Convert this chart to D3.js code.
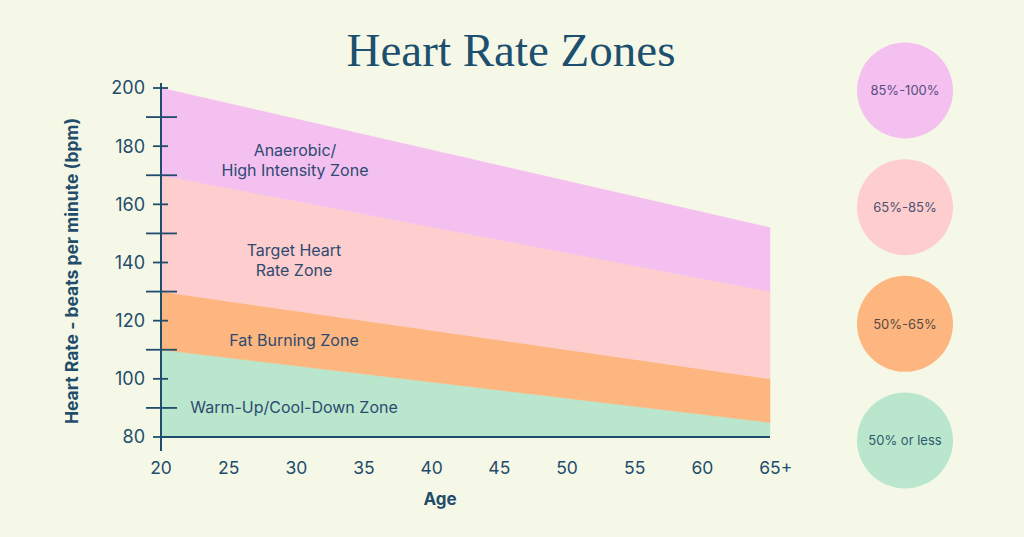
<!DOCTYPE html>
<html><head><meta charset="utf-8">
<script src="https://cdn.jsdelivr.net/npm/d3@7"></script>
<style>
html,body{margin:0;padding:0;background:#f6f8e7;}
svg{display:block;}
</style></head>
<body><svg id="c" width="1024" height="537"></svg>
<script>
// ---- data ----
const ages = [20, 65];
const xTickValues = [20, 25, 30, 35, 40, 45, 50, 55, 60, 65];
const xTickLabels = ["20","25","30","35","40","45","50","55","60","65+"];
const yMajorTicks = [80, 100, 120, 140, 160, 180, 200];
const yMinorTicks = [90, 110, 130, 150, 170, 190];
const zoneNames = ["Warm-Up/Cool-Down Zone", "Fat Burning Zone", "Target Heart Rate Zone", "Anaerobic/High Intensity Zone"];
const warmUpTop = [110, 85];
const fatBurnTop = [130, 100];
const targetTop = [170, 130];
const anaerobicTop = [200, 152];
const floorBpm = [80, 80];
const legendLabels = ["85%-100%", "65%-85%", "50%-65%", "50% or less"];
const zoneColors = ["#b9e6cd", "#fdb67f", "#fecdcd", "#f4c0f0"];
const legendColors = ["#f4c0f0", "#fecdcd", "#fdb67f", "#b9e6cd"];
const legendTextColors = ["#5b4d80", "#4d5274", "#5a4b45", "#2e5a6c"];

// ---- chart ----
const svg = d3.select("#c");
const ink = "#1f4d6b";
const sans = "Inter, 'Open Sans', sans-serif";

svg.append("rect").attr("width",1024).attr("height",537).attr("fill","#f6f8e7");

const x = d3.scaleLinear().domain([20, 65]).range([161, 770]);
const y = d3.scaleLinear().domain([80, 200]).range([437, 88]);

const bands = [
  {lo: floorBpm, hi: warmUpTop},
  {lo: warmUpTop, hi: fatBurnTop},
  {lo: fatBurnTop, hi: targetTop},
  {lo: targetTop, hi: anaerobicTop}
];
const area = d3.area().x(d => x(d.age)).y0(d => y(d.lo)).y1(d => y(d.hi));
bands.forEach((b, i) => {
  const pts = ages.map((a, j) => ({age: a, lo: b.lo[j], hi: b.hi[j]}));
  svg.append("path").attr("d", area(pts)).attr("fill", zoneColors[i]).attr("stroke", zoneColors[i]).attr("stroke-width", 0.5);
});

// axes
svg.append("line").attr("x1", x(20)).attr("x2", x(20)).attr("y1", y(200) - 5).attr("y2", 451)
  .attr("stroke", ink).attr("stroke-width", 2);
svg.append("line").attr("x1", x(20)).attr("x2", x(65)).attr("y1", y(80)).attr("y2", y(80))
  .attr("stroke", ink).attr("stroke-width", 2.2);

yMajorTicks.forEach(v => {
  svg.append("line").attr("x1", x(20) - 8).attr("x2", x(20) + 7).attr("y1", y(v)).attr("y2", y(v))
    .attr("stroke", ink).attr("stroke-width", 1.8);
  svg.append("text").attr("x", 145).attr("y", y(v)).attr("dy", "0.36em").attr("text-anchor", "end")
    .attr("font-family", sans).attr("font-size", 18).attr("fill", ink).text(v);
});
yMinorTicks.forEach(v => {
  svg.append("line").attr("x1", x(20) - 15).attr("x2", x(20) + 16).attr("y1", y(v)).attr("y2", y(v))
    .attr("stroke", ink).attr("stroke-width", 1.8);
});

xTickValues.forEach((v, i) => {
  const t = svg.append("text").attr("x", x(v)).attr("y", 474).attr("text-anchor", "middle")
    .attr("font-family", sans).attr("font-size", 17.5).attr("fill", ink).text(v);
  if (xTickLabels[i] !== String(v)) {
    const w = t.node().getComputedTextLength();
    t.attr("text-anchor", "start").attr("x", x(v) - w / 2).text(xTickLabels[i]);
  }
});

// axis titles
svg.append("text").attr("x", 440).attr("y", 505).attr("text-anchor", "middle")
  .attr("font-family", sans).attr("font-weight", 700).attr("font-size", 17).attr("fill", ink).text("Age");
svg.append("text").attr("transform", "translate(78,271) rotate(-90)").attr("text-anchor", "middle")
  .attr("font-family", sans).attr("font-weight", 700).attr("font-size", 17.5).attr("fill", ink)
  .text("Heart Rate - beats per minute (bpm)");

// title
svg.append("text").attr("x", 511).attr("y", 66).attr("text-anchor", "middle")
  .attr("font-family", "'Liberation Serif', 'DejaVu Serif', serif").attr("font-size", 47).attr("fill", "#1d4f6e")
  .text("Heart Rate Zones");

// zone labels
const zoneLabelLines = [
  {lines: ["Warm-Up/Cool-Down Zone"], cx: 294, cy: 407},
  {lines: ["Fat Burning Zone"], cx: 294, cy: 340},
  {lines: ["Target Heart", "Rate Zone"], cx: 294, cy: 260},
  {lines: ["Anaerobic/", "High Intensity Zone"], cx: 295, cy: 160}
];
zoneLabelLines.forEach(z => {
  const n = z.lines.length;
  z.lines.forEach((ln, k) => {
    svg.append("text").attr("x", z.cx).attr("y", z.cy + (k - (n - 1) / 2) * 20).attr("dy", "0.36em")
      .attr("text-anchor", "middle").attr("font-family", sans).attr("font-size", 16).attr("fill", "#2d4b70").text(ln);
  });
});

// legend circles
const ly = d3.scalePoint().domain(legendLabels).range([90.5, 440.5]);
legendLabels.forEach((l, i) => {
  svg.append("circle").attr("cx", 905).attr("cy", ly(l)).attr("r", 48).attr("fill", legendColors[i]);
  svg.append("text").attr("x", 905).attr("y", ly(l)).attr("dy", "0.36em").attr("text-anchor", "middle")
    .attr("font-family", sans).attr("font-size", 13).attr("fill", legendTextColors[i]).text(l);
});
</script></body></html>
